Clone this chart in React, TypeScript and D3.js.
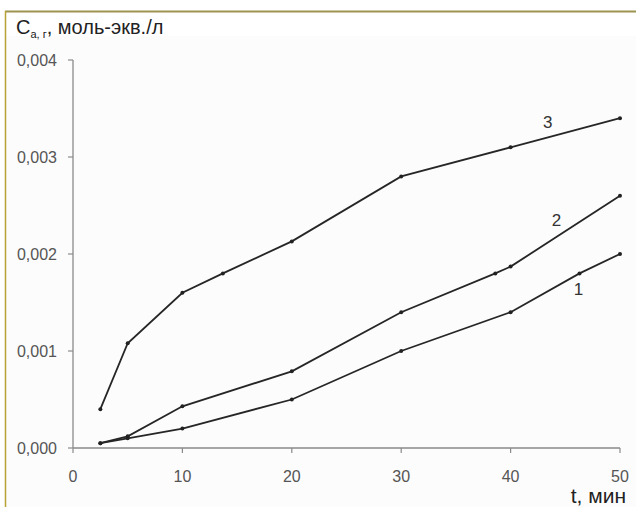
import React, { useEffect, useRef } from 'react';
import * as d3 from 'd3';

// series 1, 2, 3 — (t, C) pairs
const times1 = [2.5, 5, 10, 20, 30, 40, 46.3, 50];
const values1 = [0.00005, 0.0001, 0.0002, 0.0005, 0.001, 0.0014, 0.0018, 0.002];
const times2 = [2.5, 5, 10, 20, 30, 38.6, 40, 50];
const values2 = [0.00005, 0.00012, 0.00043, 0.00079, 0.0014, 0.0018, 0.00187, 0.0026];
const times3 = [2.5, 5, 10, 13.7, 20, 30, 40, 50];
const values3 = [0.0004, 0.00108, 0.0016, 0.0018, 0.00213, 0.0028, 0.0031, 0.0034];
const seriesLabels = ['1', '2', '3'];

const xTicks = [0, 10, 20, 30, 40, 50];
const yTicks = [0, 0.001, 0.002, 0.003, 0.004];

const W = 636;
const H = 507;

const App: React.FC = () => {
  const svgRef = useRef<SVGSVGElement | null>(null);

  useEffect(() => {
    document.body.style.margin = '0';
    if (!svgRef.current) return;
    const svg = d3.select(svgRef.current);
    svg.selectAll('*').remove();

    const font = '"Liberation Sans", Arial, sans-serif';
    const x = d3.scaleLinear().domain([0, 50]).range([73, 620]);
    const y = d3.scaleLinear().domain([0, 0.004]).range([448, 60]);

    svg.append('rect').attr('width', W).attr('height', H).attr('fill', '#fff');
    svg.append('rect').attr('x', 6).attr('y', 36).attr('width', W - 6).attr('height', H - 36).attr('fill', '#fcfcfc');

    // frame
    svg.append('line').attr('x1', 5).attr('x2', W).attr('y1', 11.5).attr('y2', 11.5)
      .attr('stroke', '#9c9450').attr('stroke-width', 2);
    svg.append('line').attr('x1', 5.5).attr('x2', 5.5).attr('y1', 11).attr('y2', H)
      .attr('stroke', '#b9a235').attr('stroke-width', 1.5);

    // axes
    const axisColor = '#8a8a8a';
    svg.append('line').attr('x1', x(0)).attr('x2', x(0)).attr('y1', y(0.004)).attr('y2', y(0))
      .attr('stroke', axisColor).attr('stroke-width', 1.3);
    svg.append('line').attr('x1', x(0)).attr('x2', x(50)).attr('y1', y(0)).attr('y2', y(0))
      .attr('stroke', axisColor).attr('stroke-width', 1.3);

    yTicks.forEach(t => {
      svg.append('line').attr('x1', x(0) - 5).attr('x2', x(0)).attr('y1', y(t)).attr('y2', y(t))
        .attr('stroke', axisColor).attr('stroke-width', 1.2);
      svg.append('text').attr('x', 57).attr('y', y(t) + 6)
        .attr('text-anchor', 'end').style('font-family', font).style('font-size', '16px')
        .attr('fill', '#555').text(t.toFixed(3).replace('.', ','));
    });
    xTicks.forEach(t => {
      svg.append('line').attr('x1', x(t)).attr('x2', x(t)).attr('y1', y(0)).attr('y2', y(0) + 5)
        .attr('stroke', axisColor).attr('stroke-width', 1.2);
      svg.append('text').attr('x', x(t)).attr('y', 482)
        .attr('text-anchor', 'middle').style('font-family', font).style('font-size', '16px')
        .attr('fill', '#555').text(String(t));
    });

    // titles
    const title = svg.append('text').attr('x', 16).attr('y', 34)
      .style('font-family', font).style('font-size', '20px').attr('fill', '#222');
    title.append('tspan').text('C');
    title.append('tspan').attr('dy', 4).style('font-size', '11px').text('а, г');
    title.append('tspan').attr('dy', -4).text(', моль-экв./л');

    svg.append('text').attr('x', 626).attr('y', 503).attr('text-anchor', 'end')
      .style('font-family', font).style('font-size', '21px').attr('fill', '#222').text('t, мин');

    // series
    const series = [
      { t: times1, v: values1 },
      { t: times2, v: values2 },
      { t: times3, v: values3 },
    ];
    const line = d3.line<[number, number]>().x(d => x(d[0])).y(d => y(d[1]));
    series.forEach(s => {
      const pts: [number, number][] = s.t.map((t, i) => [t, s.v[i]]);
      svg.append('path').attr('d', line(pts)).attr('fill', 'none')
        .attr('stroke', '#262626').attr('stroke-width', 1.8);
      svg.selectAll(null).data(pts).enter().append('circle')
        .attr('cx', d => x(d[0])).attr('cy', d => y(d[1])).attr('r', 2)
        .attr('fill', '#222');
    });

    // curve numbers
    const labelPos: [number, number][] = [[46.2, 0.00158], [44.2, 0.00229], [43.4, 0.0033]];
    seriesLabels.forEach((l, i) => {
      svg.append('text').attr('x', x(labelPos[i][0])).attr('y', y(labelPos[i][1]))
        .attr('text-anchor', 'middle').style('font-family', font).style('font-size', '17px')
        .attr('fill', '#333').text(l);
    });
  }, []);

  return <svg ref={svgRef} width={W} height={H} style={{ display: 'block' }} />;
};

export default App;
